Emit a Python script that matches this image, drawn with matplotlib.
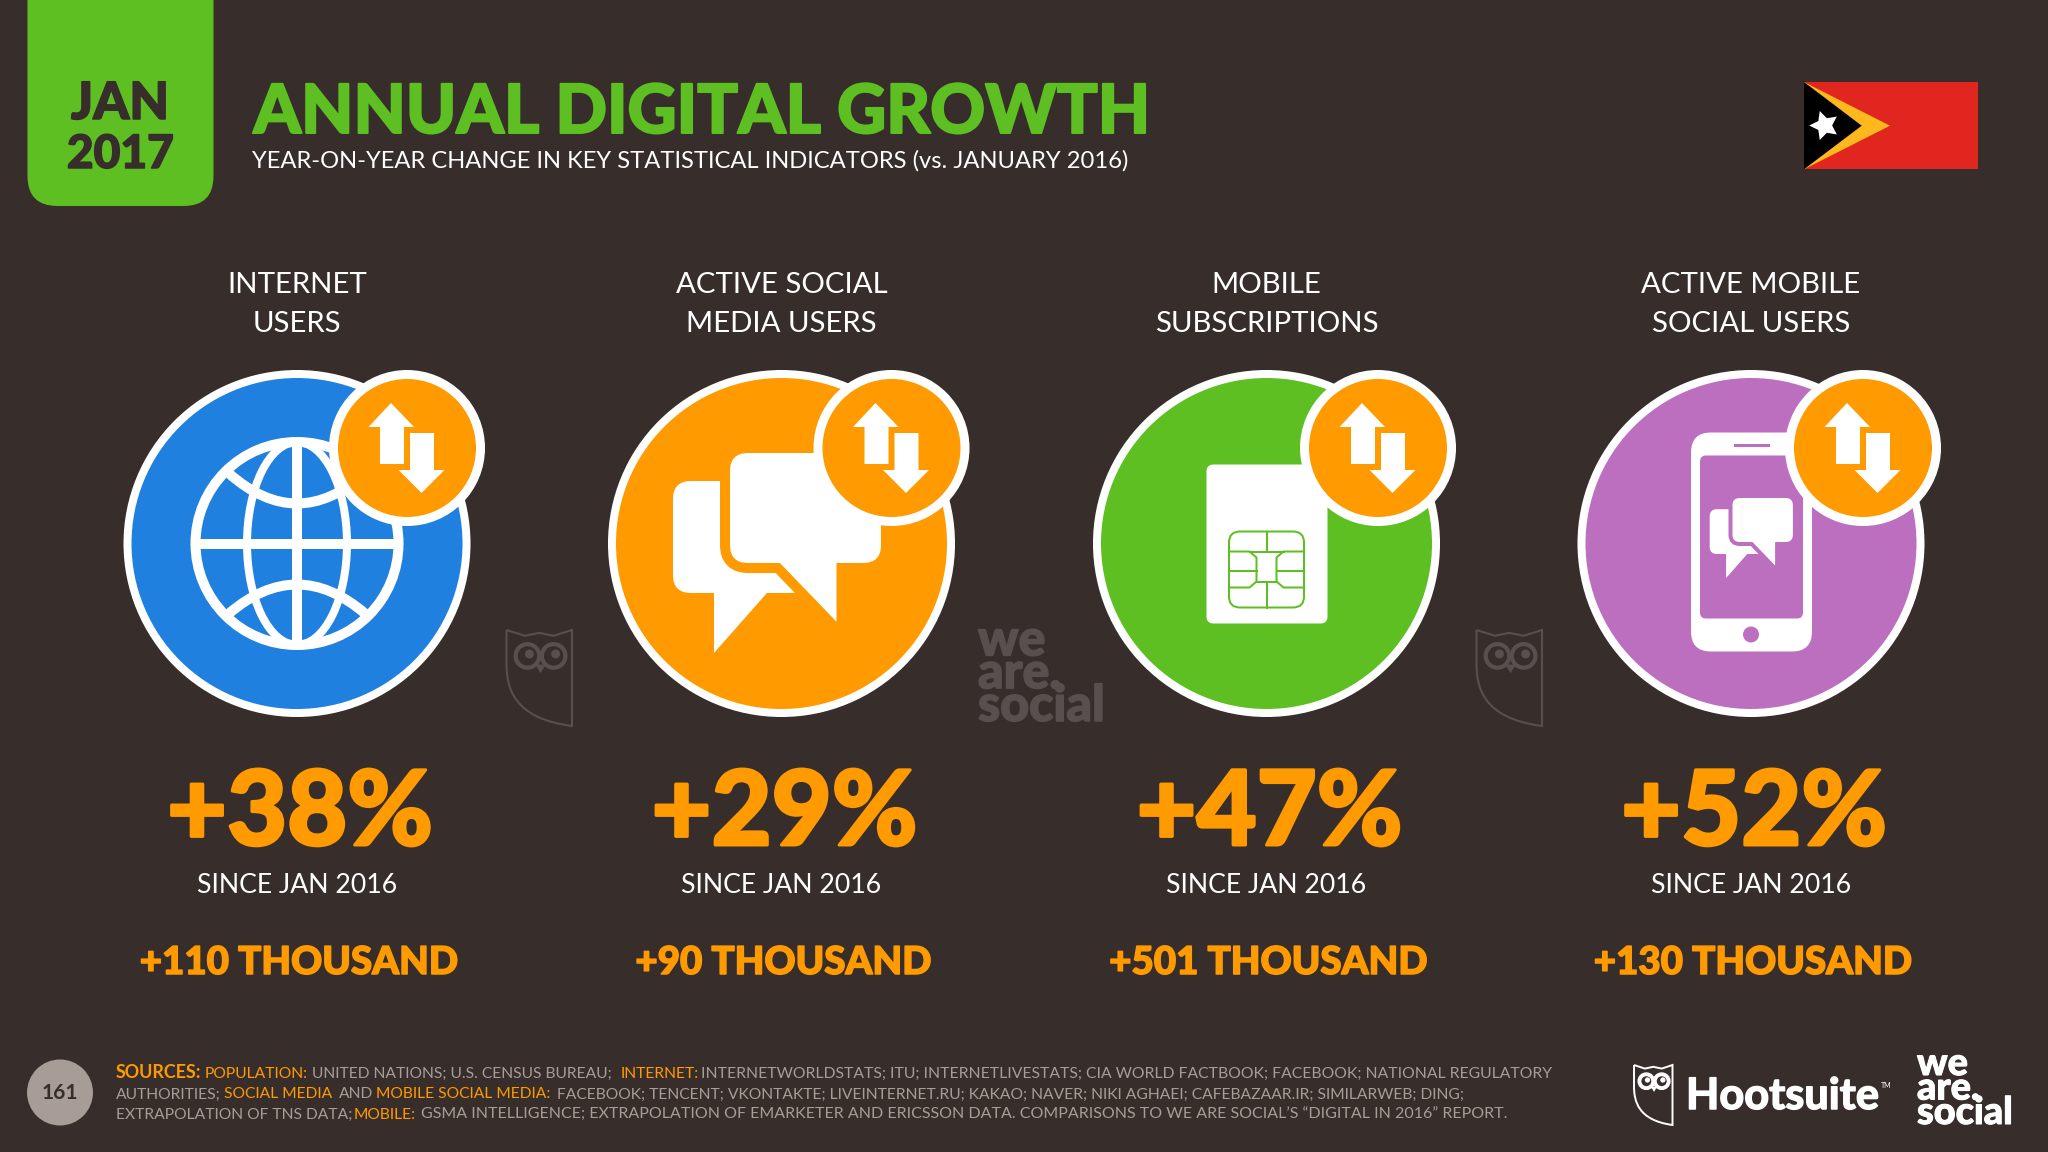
import matplotlib
matplotlib.use("Agg")
from matplotlib import pyplot as plt
from matplotlib import patheffects
from matplotlib.patches import Circle, Ellipse, FancyBboxPatch, Polygon, PathPatch
from matplotlib.path import Path

# chart content
column_titles = [["INTERNET", "USERS"], ["ACTIVE SOCIAL", "MEDIA USERS"],
                 ["MOBILE", "SUBSCRIPTIONS"], ["ACTIVE MOBILE", "SOCIAL USERS"]]
percent_labels = ["+38%", "+29%", "+47%", "+52%"]
since_labels = ["SINCE JAN 2016"] * 4
absolute_labels = ["+110 THOUSAND", "+90 THOUSAND", "+501 THOUSAND", "+130 THOUSAND"]
page_number = "161"
title = "ANNUAL DIGITAL GROWTH"
subtitle = "YEAR-ON-YEAR CHANGE IN KEY STATISTICAL INDICATORS (vs. JANUARY 2016)"

BG = "#372e2c"
GREEN = "#5ebf23"
BLUE = "#2080e0"
ORANGE = "#ff9a00"
PURPLE = "#bd6fbf"
GREY = "#a79d96"
MARK = "#58504e"
WHITE = "#ffffff"

# (text, colour, bold, left edge in pixels)
footer_lines = [
    [("SOURCES:", ORANGE, True, 116), ("POPULATION:", ORANGE, False, 205),
     ("UNITED NATIONS; U.S. CENSUS BUREAU;", GREY, False, 312.5), ("INTERNET:", ORANGE, False, 620.5),
     ("INTERNETWORLDSTATS; ITU; INTERNETLIVESTATS; CIA WORLD FACTBOOK; FACEBOOK; NATIONAL REGULATORY", GREY, False, 701)],
    [("AUTHORITIES;", GREY, False, 116), ("SOCIAL MEDIA", ORANGE, False, 224.5), ("AND", GREY, False, 339),
     ("MOBILE SOCIAL MEDIA:", ORANGE, False, 376),
     ("FACEBOOK; TENCENT; VKONTAKTE; LIVEINTERNET.RU; KAKAO; NAVER; NIKI AGHAEI; CAFEBAZAAR.IR; SIMILARWEB; DING;", GREY, False, 557)],
    [("EXTRAPOLATION OF TNS DATA;", GREY, False, 116), ("MOBILE:", ORANGE, False, 354),
     ("GSMA INTELLIGENCE; EXTRAPOLATION OF EMARKETER AND ERICSSON DATA. COMPARISONS TO WE ARE SOCIAL\u2019S \u201cDIGITAL IN 2016\u201d REPORT.", GREY, False, 421)],
]
footer_ends = [1547, 1469, 1505]

plt.rcParams["font.family"] = ["Lato", "DejaVu Sans"]

fig = plt.figure(figsize=(20.48, 11.52), dpi=100, facecolor=BG)
ax = fig.add_axes([0, 0, 1, 1])
ax.set_xlim(0, 2048)
ax.set_ylim(1152, 0)
ax.axis("off")
renderer = fig.canvas.get_renderer()

PX = 0.72  # one pixel in points


def text_width(s, size, weight="normal"):
    t = ax.text(0, 0, s, fontsize=size, fontweight=weight)
    w = t.get_window_extent(renderer).width
    t.remove()
    return w


def fit_size(s, width, weight="normal"):
    # hinting makes width not quite linear in size, so go round a few times
    size = 20
    for _ in range(3):
        size = size * width / text_width(s, size, weight)
    return size


def put(x, y, s, size, color=WHITE, weight="normal", ha="center", heavy=0, spacing=1.2):
    t = ax.text(x, y, s, fontsize=size, color=color, fontweight=weight, ha=ha, va="baseline",
                linespacing=spacing)
    # lato stops short of the reference's weight, thicken the outline a bit
    if heavy:
        t.set_path_effects([patheffects.withStroke(linewidth=heavy * PX, foreground=color)])


def rrect(x0, y0, x1, y1, r, fc, ec="none", lw=0):
    p = FancyBboxPatch((x0 + r, y0 + r), x1 - x0 - 2 * r, y1 - y0 - 2 * r,
                       boxstyle="round,pad=%f,rounding_size=%f" % (r, r),
                       fc=fc, ec=ec, lw=lw)
    ax.add_patch(p)


def chat(ox, oy, s, fill, back):
    # drawn in the big bubble's own pixels, (730, 453) being its top left corner
    def X(v):
        return ox + s * (v - 730)

    def Y(v):
        return oy + s * (v - 453)
    r = 18 * s
    rrect(X(673), Y(481), X(810), Y(593), r, fill)
    ax.add_patch(Polygon([(X(714), Y(585)), (X(714), Y(653)), (X(774), Y(585))], fc=fill, ec="none"))
    gap = 20 * s * PX
    rrect(X(730), Y(453), X(881), Y(563), r, back, back, gap)
    tail = [(X(777), Y(560)), (X(836.5), Y(621.7)), (X(836.5), Y(560))]
    ax.add_patch(Polygon(tail, fc=back, ec=back, lw=gap, joinstyle="round"))
    rrect(X(730), Y(453), X(881), Y(563), r, fill)
    ax.add_patch(Polygon(tail, fc=fill, ec="none"))


def globe(cx, cy):
    lw = 10 * PX
    ax.add_patch(Circle((cx, cy), 101.5, fc="none", ec=WHITE, lw=lw))
    ax.add_patch(Ellipse((cx, cy), 100, 203, fc="none", ec=WHITE, lw=8 * PX))
    ax.plot([cx, cx], [cy - 100, cy + 100], color=WHITE, lw=lw, solid_capstyle="butt")
    ax.plot([cx - 100, cx + 100], [cy, cy], color=WHITE, lw=lw, solid_capstyle="butt")
    for y_end, y_ctrl in [(cy - 70, cy - 10), (cy + 70, cy + 12)]:
        arc = Path([(cx - 68, y_end), (cx, y_ctrl), (cx + 68, y_end)],
                   [Path.MOVETO, Path.CURVE3, Path.CURVE3])
        ax.add_patch(PathPatch(arc, fc="none", ec=WHITE, lw=lw))


def sim(cx, cy):
    rrect(cx - 60, cy - 79, cx + 61, cy + 80, 7, WHITE)
    lw = 2 * PX
    rrect(cx - 37.5, cy - 12, cx + 37.5, cy + 64, 11, WHITE, GREEN, lw)
    # chip contacts
    y1, y2, y3 = cy + 8, cy + 27, cy + 44
    for sign in (-1, 1):
        lines = [[(sign * 37.5, y1 - cy), (sign * 17, y1 - cy), (sign * 10, y1 - cy + 6),
                  (sign * 10, y3 - cy - 6), (sign * 17, y3 - cy), (sign * 37.5, y3 - cy)],
                 [(sign * 37.5, y2 - cy), (sign * 10, y2 - cy)]]
        for ln in lines:
            ax.plot([cx + p[0] for p in ln], [cy + p[1] for p in ln], color=GREEN, lw=lw)
    ax.plot([cx - 17, cx + 17], [y1, y1], color=GREEN, lw=lw)
    ax.plot([cx - 10, cx + 10], [y3 - 6, y3 - 6], color=GREEN, lw=lw)
    ax.plot([cx, cx], [cy - 12, y1], color=GREEN, lw=lw)
    ax.plot([cx, cx], [y3 - 6, cy + 64], color=GREEN, lw=lw)


def phone(cx, cy):
    rrect(cx - 60, cy - 111, cx + 61, cy + 108, 20, WHITE)
    rrect(cx - 51, cy - 88, cx + 52, cy + 75, 6, PURPLE)
    ax.plot([cx - 16, cx + 17], [cy - 98.5, cy - 98.5], color=PURPLE, lw=3 * PX)
    ax.add_patch(Circle((cx, cy + 91), 8, fc=PURPLE, ec="none"))
    chat(cx - 18.5, cy - 45.5, 0.4, WHITE, PURPLE)


def badge(cx, cy):
    ax.add_patch(Circle((cx, cy), 78, fc=WHITE, ec="none"))
    ax.add_patch(Circle((cx, cy), 69, fc=ORANGE, ec="none"))
    up = [(-16, -45), (7, -21), (-3, -21), (-3, 16), (-27, 16), (-27, -21), (-38.5, -21)]
    down = [(14.5, 45), (37.5, 22), (27, 22), (27, -15), (3, -15), (3, 22), (-8.5, 22)]
    ax.add_patch(Polygon([(cx + a, cy + b) for a, b in up], fc=WHITE, ec="none"))
    ax.add_patch(Polygon([(cx + a, cy + b) for a, b in down], fc=WHITE, ec="none"))


def owl(x0, y0, w, h, color, lw):
    top = [(0, 0), (0.28, 0.06), (0.5, 0.03), (0.72, 0.06), (1, 0)]
    verts = [(x0 + w * a, y0 + h * b) for a, b in top]
    codes = [Path.MOVETO] + [Path.LINETO] * 4
    verts += [(x0 + w, y0 + h), (x0 + 0.1 * w, y0 + 0.92 * h), (x0, y0 + 0.6 * h), (x0, y0 + 0.35 * h), (x0, y0)]
    codes += [Path.LINETO, Path.CURVE4, Path.CURVE4, Path.CURVE4, Path.LINETO]
    ax.add_patch(PathPatch(Path(verts, codes), fc="none", ec=color, lw=lw, joinstyle="miter"))
    r = 0.18 * w
    for ex in (0.32, 0.72):
        ax.add_patch(Circle((x0 + ex * w, y0 + 0.27 * h), r, fc="none", ec=color, lw=lw * 2))
        ax.add_patch(Circle((x0 + ex * w + 0.03 * w, y0 + 0.25 * h), r * 0.38, fc=color, ec="none"))
    ax.add_patch(Polygon([(x0 + 0.44 * w, y0 + 0.36 * h), (x0 + 0.6 * w, y0 + 0.36 * h), (x0 + 0.52 * w, y0 + 0.45 * h)],
                         fc=color, ec="none"))


# header
rrect(27.5, -60, 213.5, 206, 30, GREEN)
put(120, 119, "JAN", fit_size("JAN", 98, "black"), BG, "black", heavy=1.5)
put(120.5, 168, "2017", fit_size("2017", 107, "black"), BG, "black", heavy=1.5)
put(253.5, 133, title, fit_size(title, 896, "black"), GREEN, "black", ha="left", heavy=2)
put(252, 168, subtitle, fit_size(subtitle, 879), WHITE, "normal", ha="left")

# flag
ax.add_patch(Polygon([(1804, 82), (1978, 82), (1978, 169.3), (1804, 169.3)], fc="#e1251f", ec="none"))
ax.add_patch(Polygon([(1804, 82), (1890, 125.7), (1804, 169.3)], fc="#fdb81e", ec="none"))
ax.add_patch(Polygon([(1804, 82), (1861.7, 125.7), (1804, 169.3)], fc="#000000", ec="none"))
ax.plot([1824.3], [125], marker=(5, 1, 18), ms=22, color=WHITE, mec="none")

# columns
centers = [297, 781.5, 1266.5, 1751]
badge_x = [407, 891.5, 1378, 1863]
circle_colors = [BLUE, ORANGE, GREEN, PURPLE]
head_size = fit_size("ACTIVE SOCIAL", 212)
pct_size = fit_size("+38%", 266, "black")
since_size = fit_size("SINCE JAN 2016", 200)
abs_size = fit_size("+110 THOUSAND", 318, "black")

for i, cx in enumerate(centers):
    put(cx, 293, column_titles[i][0], head_size)
    put(cx, 332, column_titles[i][1], head_size)
    ax.add_patch(Circle((cx, 543.5), 173.5, fc=WHITE, ec="none"))
    ax.add_patch(Circle((cx, 543.5), 165.5, fc=circle_colors[i], ec="none"))
    put(cx + 3, 845, percent_labels[i], pct_size, ORANGE, "black", heavy=3)
    put(cx, 893, since_labels[i], since_size)
    put(cx + 2, 974, absolute_labels[i], abs_size, ORANGE, "black", heavy=1.5)

globe(centers[0], 543.5)
chat(730, 453, 1, WHITE, ORANGE)
sim(centers[2], 543.5)
phone(centers[3], 543.5)
for bx in badge_x:
    badge(bx, 448)

# watermarks between the circles
owl(506.5, 630, 65.5, 96, MARK, 1.5)
owl(1476.5, 630, 65.5, 96, MARK, 1.5)
put(978, 721, "we\nare.\nsocial", fit_size("social", 127, "black"), MARK, "black", ha="left", heavy=1.5, spacing=0.67)

# footer
ax.add_patch(Circle((60, 1092.5), 33, fc=GREY, ec="none"))
put(60, 1099, page_number, fit_size(page_number, 36, "bold"), BG, "bold")

foot_size = fit_size(footer_lines[1][4][0], footer_ends[1] - footer_lines[1][4][3])
for base, runs, end in zip([1078, 1098.5, 1119], footer_lines, footer_ends):
    for s, color, bold, x in runs:
        w = "bold" if bold else "normal"
        size = foot_size
        if bold:
            size = fit_size(s, 85, w)
        if s == runs[-1][0]:
            size = fit_size(s, end - x)  # last run has to finish where the reference does
        put(x, base, s, size, color, w, ha="left")

owl(1634, 1065, 38.5, 60, WHITE, 1.4)
put(1686, 1109, "Hootsuite", fit_size("Hootsuite", 193, "bold"), WHITE, "bold", ha="left", heavy=1.5)
put(1881, 1088, "TM", 5, WHITE, "normal", ha="left")
put(1917, 1124, "we\nare.\nsocial", fit_size("social", 96, "black"), WHITE, "black", ha="left", heavy=1, spacing=0.66)

fig.savefig("out.png", dpi=100)
